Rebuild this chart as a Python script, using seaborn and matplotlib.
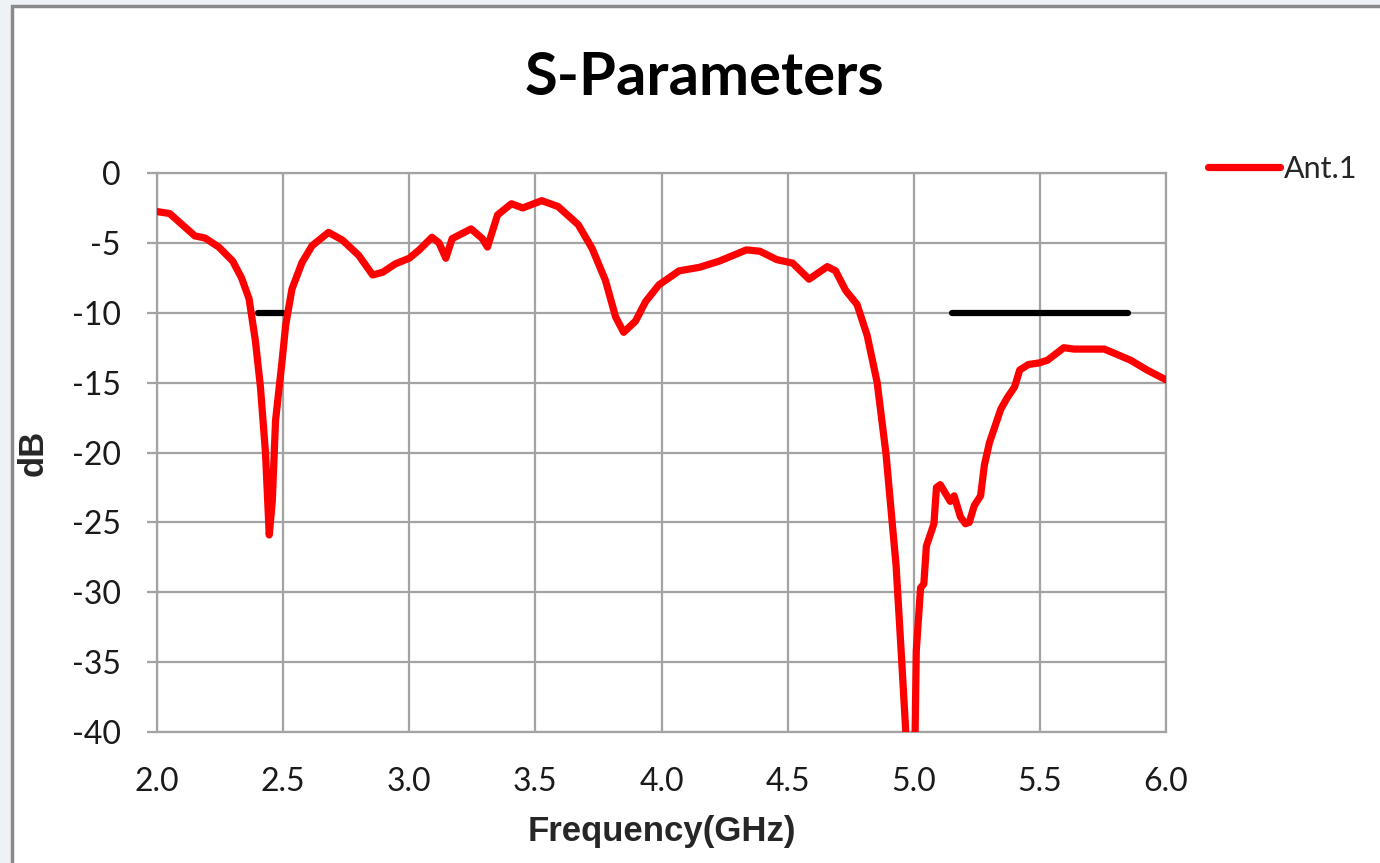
import numpy as np
import pandas as pd
import matplotlib.pyplot as plt
import seaborn as sns
from matplotlib.patches import Rectangle

# valores (S11 da antena 1)
freq_ghz = [2.00, 2.05, 2.10, 2.15, 2.19, 2.245, 2.30, 2.335, 2.365, 2.39,
            2.41, 2.43, 2.445, 2.457, 2.47, 2.495, 2.51, 2.535, 2.575, 2.615,
            2.68, 2.735, 2.80, 2.855, 2.895, 2.945, 3.00, 3.04, 3.09, 3.118,
            3.145, 3.17, 3.245, 3.29, 3.31, 3.35, 3.405, 3.45, 3.525, 3.59,
            3.67, 3.725, 3.778, 3.818, 3.85, 3.897, 3.937, 3.99, 4.07, 4.15,
            4.23, 4.337, 4.39, 4.457, 4.52, 4.585, 4.657, 4.69, 4.73, 4.775,
            4.815, 4.855, 4.89, 4.93, 4.95, 4.97, 4.99, 5.005, 5.01, 5.027,
            5.04, 5.05, 5.08, 5.09, 5.105, 5.145, 5.16, 5.185, 5.205, 5.22,
            5.24, 5.265, 5.28, 5.30, 5.345, 5.37, 5.40, 5.42, 5.455, 5.495,
            5.53, 5.595, 5.635, 5.715, 5.755, 5.795, 5.86, 5.925, 6.00]
s11_db = [-2.76, -2.9, -3.7, -4.5, -4.65, -5.3, -6.3, -7.5, -9.0, -12.0,
          -15.3, -20.0, -25.9, -23.5, -17.7, -13.6, -10.9, -8.3, -6.4, -5.2,
          -4.25, -4.8, -5.9, -7.3, -7.1, -6.5, -6.1, -5.5, -4.6, -5.0,
          -6.1, -4.7, -4.0, -4.7, -5.3, -3.0, -2.2, -2.5, -1.98, -2.4,
          -3.7, -5.4, -7.7, -10.3, -11.4, -10.6, -9.2, -8.0, -7.0, -6.75,
          -6.3, -5.5, -5.6, -6.2, -6.45, -7.6, -6.7, -7.0, -8.4, -9.4,
          -11.6, -15.0, -20.1, -28.1, -34.2, -40.5, -42.0, -40.5, -34.2, -29.7,
          -29.4, -26.7, -25.1, -22.5, -22.3, -23.5, -23.1, -24.6, -25.1, -25.0,
          -23.8, -23.1, -20.9, -19.3, -16.9, -16.1, -15.3, -14.1, -13.7, -13.6,
          -13.4, -12.5, -12.6, -12.6, -12.6, -12.9, -13.4, -14.1, -14.8]

# faixas WLAN marcadas em -10 dB
band_2g = [2.40, 2.50]
band_5g = [5.15, 5.85]
band_level = -10

xticks = [2.0, 2.5, 3.0, 3.5, 4.0, 4.5, 5.0, 5.5, 6.0]
yticks = [0, -5, -10, -15, -20, -25, -30, -35, -40]

df = pd.DataFrame({'freq': freq_ghz, 's11': s11_db})
bands = pd.DataFrame({'freq': band_2g + band_5g,
                      'db': [band_level] * 4,
                      'faixa': ['2.4G', '2.4G', '5G', '5G']})

sns.set_style('white')
plt.rcParams['font.family'] = ['Lato', 'DejaVu Sans']

fig = plt.figure(figsize=(13.8, 8.63), dpi=100, facecolor='#eef2f7')
frame = Rectangle((12 / 1380, -0.05), 1.1, 1.05 - 6 / 863,
                  transform=fig.transFigure, facecolor='white',
                  edgecolor='#8a8a8a', linewidth=2.5, zorder=-10)
fig.add_artist(frame)

ax = fig.add_axes([157 / 1380, 1 - 732 / 863, 1009 / 1380, 559 / 863])
ax.set_facecolor('white')

grid_c = '#a3a3a3'
sns.lineplot(data=bands, x='freq', y='db', units='faixa', estimator=None,
             color='black', linewidth=4.5, solid_capstyle='round', ax=ax,
             zorder=3)
sns.lineplot(data=df, x='freq', y='s11', estimator=None, sort=False,
             color='#ff0000', linewidth=5.2, solid_joinstyle='round',
             solid_capstyle='round', ax=ax, zorder=4, label='Ant.1')

ax.set_xlim(2.0, 6.0)
ax.set_ylim(-40, 0)
ax.set_xticks(xticks)
ax.set_xticklabels([f'{t:.1f}' for t in xticks])
ax.set_yticks(yticks)
ax.set_yticklabels([str(t) for t in yticks])
ax.grid(True, color=grid_c, linewidth=1.6)
ax.set_axisbelow(True)
for s in ax.spines.values():
    s.set_color(grid_c)
    s.set_linewidth(1.6)
ax.tick_params(axis='y', length=7, width=1.6, color=grid_c, pad=19,
               labelsize=23, labelcolor='#1a1a1a', left=True)
ax.tick_params(axis='x', length=0, pad=25, labelsize=23, labelcolor='#1a1a1a')

ax.set_xlabel('Frequency(GHz)', fontsize=25, fontweight='bold',
              family=['Liberation Sans', 'DejaVu Sans'], labelpad=13)
ax.set_ylabel('dB', fontsize=25, fontweight='bold',
              family=['Liberation Sans', 'DejaVu Sans'], labelpad=16)

fig.text(704 / 1380, 1 - 95 / 863, 'S-Parameters', ha='center', va='baseline',
         fontsize=43, fontweight='bold', color='black')

h, l = ax.get_legend_handles_labels()
ax.legend(h[-1:], l[-1:], loc='center left', bbox_to_anchor=(1208 / 1380, 1 - 169 / 863),
          bbox_transform=fig.transFigure, frameon=False, fontsize=22,
          handlelength=2.35, handletextpad=0.15, borderpad=0, borderaxespad=0)

fig.savefig('out.png', dpi=100, facecolor=fig.get_facecolor())
